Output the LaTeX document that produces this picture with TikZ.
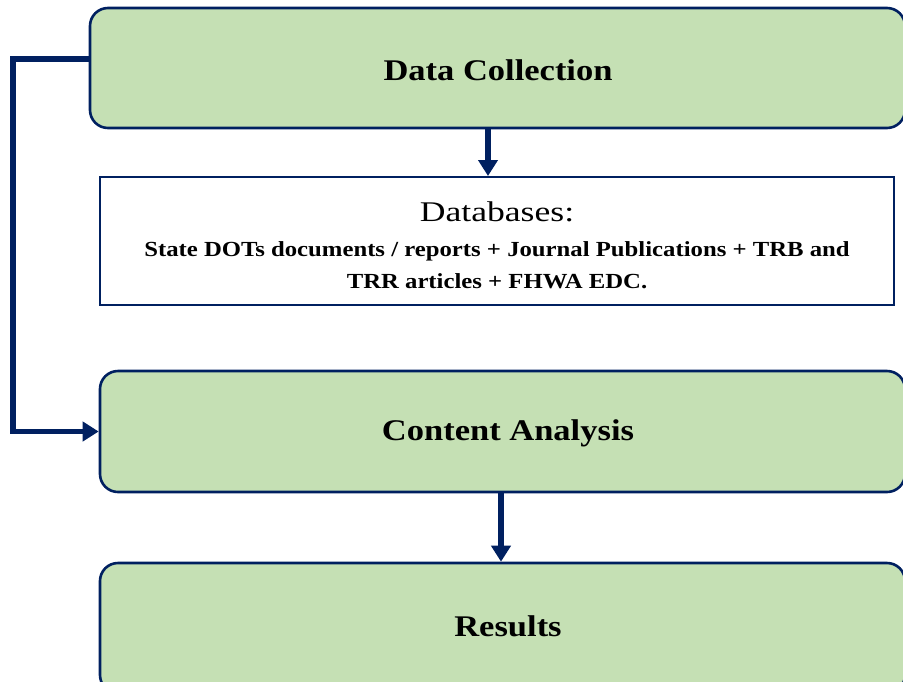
\documentclass[tikz,border=0pt]{standalone}
\usepackage{fontspec}
\setmainfont[FakeStretch=1.15]{Liberation Serif}
\newfontfamily\widefont[FakeStretch=1.25]{Liberation Serif}
\usetikzlibrary{arrows.meta}
\definecolor{navy}{HTML}{002060}
\definecolor{boxgreen}{HTML}{C5E0B4}
\tikzset{
  greenbox/.style={draw=navy, line width=2.6pt, fill=boxgreen, rounded corners=18pt, inner sep=0pt},
  whitebox/.style={draw=navy, line width=2pt, fill=white, inner sep=0pt},
  conn/.style={draw=navy, line width=5.5pt, -{Triangle[width=19pt,length=16pt]}},
  title/.style={font=\fontsize{30}{34}\selectfont\bfseries, text=black},
}
\begin{document}
\begin{tikzpicture}[x=1pt,y=-1pt]
\useasboundingbox (0,0) rectangle (903,681);
\begin{scope}
\clip (0,0) rectangle (903,681);
\node[greenbox, minimum width=815pt, minimum height=120pt] (b1) at (497.5,68) {};
\node[whitebox, minimum width=794pt, minimum height=128pt] (b2) at (497,241) {};
\node[greenbox, minimum width=805pt, minimum height=121pt] (b3) at (502.5,431.5) {};
\node[greenbox, minimum width=805pt, minimum height=130pt] (b4) at (502.5,628) {};
\end{scope}
\node[title] (t1) at (498,70) {Data Collection};
\node[font=\widefont\fontsize{28.5}{30}\selectfont] (t2a) at (497,212) {Databases:};
\node[font=\fontsize{21.5}{32}\selectfont\bfseries, align=center] (t2b) at (497,265)
  {State DOTs documents / reports + Journal Publications + TRB and\\TRR articles + FHWA EDC.};
\node[title] (t3) at (508,433) {Content Analysis};
\node[title] (t4) at (508,626) {Results};
\draw[conn] (b1.south -| 488,0) -- (b2.north -| 488,0);
\draw[conn] (b3.south -| 501,0) -- (b4.north -| 501,0);
\coordinate (c1) at ([yshift=9pt]b1.west);
\draw[conn] (c1) -- (13,59) |- (b3.west);
\end{tikzpicture}
\end{document}
